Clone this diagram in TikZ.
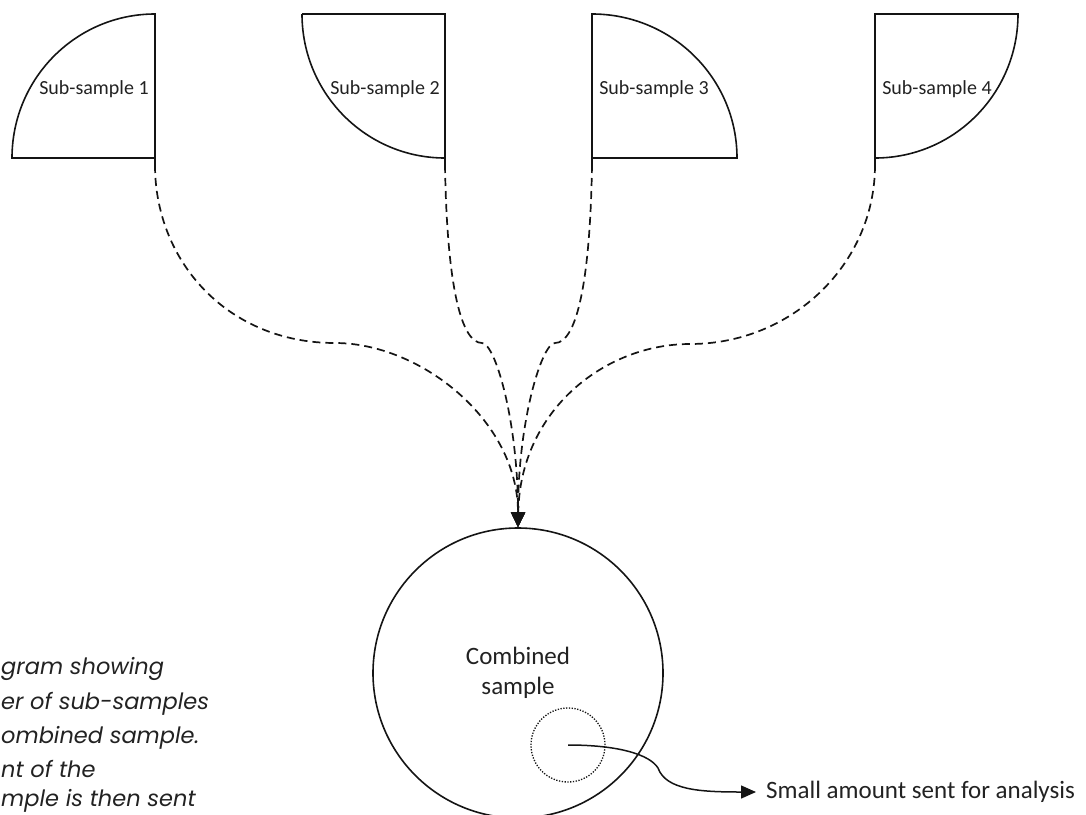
\documentclass[tikz,border=0pt]{standalone}
\usepackage{fontspec}
\setmainfont{Carlito}
\newfontfamily\gothic{Poppins}
\usetikzlibrary{arrows.meta}
\definecolor{ink}{HTML}{141414}
\definecolor{txtc}{HTML}{222222}
\begin{document}
\begin{tikzpicture}[x=1pt,y=-1pt,
  outline/.style={draw=ink, line width=1.6pt},
  sublabel/.style={anchor=base, inner sep=0pt, text=txtc, font=\fontsize{20}{24}\selectfont},
  conn/.style={draw=ink, line width=1.7pt, dash pattern=on 8pt off 5pt, -{Triangle[length=15pt,width=14pt]}},
  caption/.style={anchor=base west, inner sep=0pt, text=txtc, font=\gothic\itshape\fontsize{22.5}{27}\selectfont}
]
\useasboundingbox (0,0) rectangle (1086,814);

% quarter-circle sub-samples
\draw[outline] (155,165) -- (155,14) arc[start angle=270, end angle=180, x radius=143, y radius=144] -- (155,158);
\draw[outline] (302,14) -- (445,14) -- (445,165) (445,158) arc[start angle=90, end angle=180, x radius=143, y radius=144];
\draw[outline] (592,165) -- (592,14) arc[start angle=270, end angle=360, x radius=145, y radius=144] -- (592,158);
\draw[outline] (875,165) -- (875,14) -- (1018,14) arc[start angle=0, end angle=90, x radius=143, y radius=144];

\node[sublabel] (l1) at (94,94) {Sub-sample 1};
\node[sublabel] (l2) at (385,94) {Sub-sample 2};
\node[sublabel] (l3) at (654,94) {Sub-sample 3};
\node[sublabel] (l4) at (937,94) {Sub-sample 4};

\coordinate (s1) at (155,165);
\coordinate (s2) at (445,165);
\coordinate (s3) at (592,165);
\coordinate (s4) at (875,165);

% combined sample
\node[outline, circle, minimum size=290pt, inner sep=0pt, align=center, text=txtc,
      font=\fontsize{25}{30}\selectfont] (comb) at (518,673) {Combined\\sample};
\node[draw=ink, line width=1.3pt, circle, dash pattern=on 1.3pt off 1.5pt, minimum size=74pt, inner sep=0pt] (portion) at (568,745) {};

% dashed connectors
\draw[conn] (s1) .. controls (155,262) and (228,343) .. (335,343) .. controls (420,343) and (518,420) .. (comb.north);
\draw[conn] (s2) .. controls (447,290) and (462,343) .. (482,343) .. controls (495,343) and (518,420) .. (comb.north);
\draw[conn] (s3) .. controls (590,290) and (575,343) .. (555,343) .. controls (542,343) and (518,420) .. (comb.north);
\draw[conn] (s4) .. controls (875,264) and (792,344) .. (690,344) .. controls (605,344) and (520,410) .. (comb.north);

% analysis arrow
\node[anchor=west, inner xsep=10pt, inner ysep=0pt, text=txtc, font=\fontsize{25}{30}\selectfont] (analysis) at (756,792) {Small amount sent for analysis};
\draw[draw=ink, line width=1.5pt, -{Triangle[length=15pt,width=13pt]}] (portion.center) .. controls (620,745) and (650,755) .. (658,768) .. controls (666,790) and (700,792) .. (analysis.west);

% caption fragments (as far as the original shows them)
\node[caption] (c1) at (1,674) {gram showing};
\node[caption] (c2) at (1,709) {er of sub-samples};
\node[caption] (c3) at (1,743) {ombined sample.};
\node[caption] (c4) at (1,777) {nt of the};
\node[caption] (c5) at (1,806) {mple is then sent};
\end{tikzpicture}
\end{document}
